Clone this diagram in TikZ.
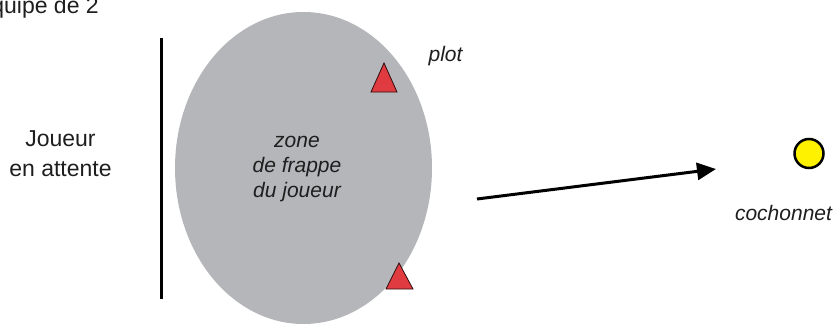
\documentclass[tikz,border=0pt]{standalone}
\usepackage{fontspec}
\setmainfont{Liberation Sans}
\usetikzlibrary{arrows.meta}
\definecolor{zonegray}{RGB}{181,182,185}
\definecolor{plotred}{RGB}{224,59,64}
\definecolor{txt}{RGB}{30,30,30}
\tikzset{
  lbl/.style={inner sep=0pt, text=txt, font=\fontsize{23}{29}\selectfont, anchor=base},
  ilbl/.style={inner sep=0pt, text=txt, font=\fontsize{21}{25}\selectfont\itshape, anchor=base},
  plotmark/.style={fill=plotred, draw=black!80!plotred, line width=0.8pt, line join=miter},
  arrowline/.style={line width=3pt, -{Triangle[length=19pt,width=17pt]}},
  ball/.style={circle, draw=black, line width=2.5pt, fill=yellow, minimum size=29pt, inner sep=0pt}
}
\begin{document}
\begin{tikzpicture}[x=1pt,y=-1pt]
\useasboundingbox (0,0) rectangle (835,324);
% zone
\fill[zonegray] (303.5,168) ellipse [x radius=128.5, y radius=156];
% waiting line
\draw[line width=3pt] (161.5,38) -- (161.5,299);
% plots
\draw[plotmark] (384,63) -- (397,92) -- (371,92) -- cycle;
\draw[plotmark] (399,263) -- (413,289) -- (386,289) -- cycle;
% texts
\node[lbl, anchor=base east] (eq) at (99,13) {Équipe de 2};
\node[lbl] (j1) at (60.5,146.5) {Joueur};
\node[lbl] (j2) at (60.5,176) {en attente};
\node[ilbl] (z1) at (297,147) {zone};
\node[ilbl] (z2) at (297,172.5) {de frappe};
\node[ilbl] (z3) at (297,197.5) {du joueur};
\node[ilbl] (pl) at (445.5,61) {plot};
\node[ilbl] (co) at (783.5,220) {cochonnet};
% cochonnet ball
\node[ball] (c) at (809,153.5) {};
% throw arrow
\coordinate (a1) at (477,199);
\coordinate (a2) at (716,169);
\draw[arrowline] (a1) -- (a2);
\end{tikzpicture}
\end{document}
